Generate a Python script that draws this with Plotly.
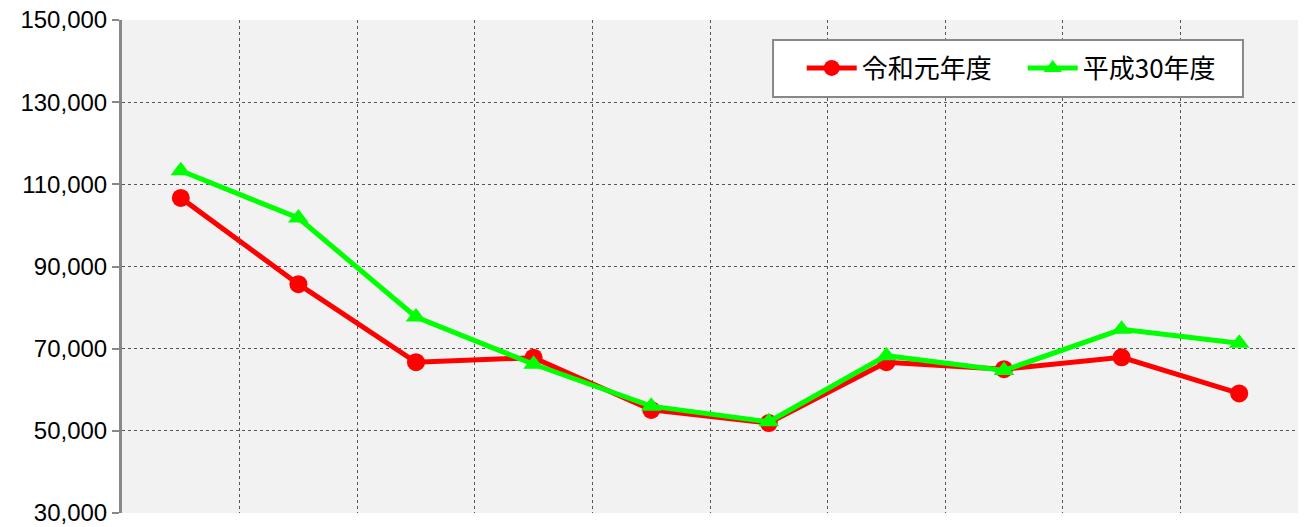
import plotly.graph_objects as go

# category positions (no labels shown in the reference)
categories = [1, 2, 3, 4, 5, 6, 7, 8, 9, 10]

reiwa1 = [106700, 85700, 66700, 67800, 55100, 51900, 66700, 65000, 67900, 59100]
heisei30 = [113300, 101800, 77700, 66200, 56000, 52200, 68300, 64700, 74700, 71300]

y_tickvals = [30000, 50000, 70000, 90000, 110000, 130000, 150000]
y_ticktext = ["30,000", "50,000", "70,000", "90,000", "110,000", "130,000", "150,000"]

FONT = "Noto Sans CJK JP"
TICK_FONT = "Liberation Sans"

fig = go.Figure()
fig.add_trace(go.Scatter(
    x=categories, y=reiwa1, name="令和元年度", mode="lines+markers",
    line=dict(color="#ff0000", width=5),
    marker=dict(symbol="circle", size=18, color="#ff0000"),
))
fig.add_trace(go.Scatter(
    x=categories, y=heisei30, name="平成30年度", mode="lines+markers",
    line=dict(color="#00ff00", width=5),
    marker=dict(symbol="triangle-up", size=18, color="#00ff00"),
))

# legend frame (white box with grey border)
fig.add_shape(
    type="rect", xref="paper", yref="paper",
    x0=0.5536, x1=0.9532, y0=0.8438, y1=0.9594,
    fillcolor="white", line=dict(color="#888888", width=2), layer="above",
)

fig.update_layout(
    width=1304, height=527,
    margin=dict(l=122, r=6, t=20, b=14, autoexpand=False),
    paper_bgcolor="white",
    plot_bgcolor="#f2f2f2",
    font=dict(family=FONT, color="black"),
    showlegend=True,
    legend=dict(
        orientation="h",
        x=0.578, y=0.9026, xanchor="left", yanchor="middle",
        bgcolor="rgba(0,0,0,0)", borderwidth=0,
        font=dict(family=FONT, size=26, color="black"),
        itemwidth=50, entrywidth=156,
    ),
    xaxis=dict(
        range=[0.5, 10.5],
        tickmode="linear", tick0=0.5, dtick=1,
        showticklabels=False, ticks="",
        showgrid=True, gridcolor="#555555", gridwidth=1, griddash="dot",
        zeroline=False, showline=False,
    ),
    yaxis=dict(
        range=[30000, 150000],
        tickmode="array", tickvals=y_tickvals, ticktext=y_ticktext,
        tickfont=dict(family=TICK_FONT, size=24, color="black"),
        ticklabeloverflow="allow",
        ticks="outside", ticklen=7, tickcolor="#888888", tickwidth=2,
        showgrid=True, gridcolor="#555555", gridwidth=1, griddash="dot",
        zeroline=False,
        showline=True, linecolor="#888888", linewidth=3,
    ),
)

fig.write_html(
    "out.html",
    config={"displayModeBar": False},
    post_script="document.body.style.margin='0';document.body.style.overflow='hidden';",
)
